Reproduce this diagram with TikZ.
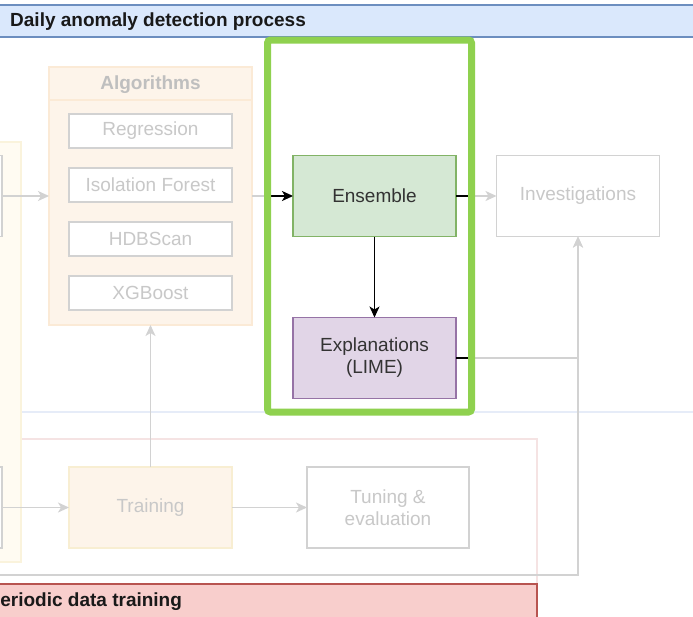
\documentclass[tikz,border=0pt]{standalone}
\usepackage{fontspec}
\setmainfont{Liberation Sans}
\usetikzlibrary{arrows.meta}

\definecolor{dimline}{HTML}{D2D2D2}
\definecolor{dimtext}{HTML}{C8C8C8}
\definecolor{ensfill}{HTML}{D5E8D4}
\definecolor{ensline}{HTML}{82B366}
\definecolor{limefill}{HTML}{E1D5E7}
\definecolor{limeline}{HTML}{9673A6}
\definecolor{focusgreen}{HTML}{8FD14F}
\definecolor{dailyfill}{HTML}{DAE8FC}
\definecolor{dailyline}{HTML}{6C8EBF}
\definecolor{dailyfaint}{HTML}{E6ECF8}
\definecolor{trainfill}{HTML}{F8CECC}
\definecolor{trainline}{HTML}{B85450}
\definecolor{trainfaint}{HTML}{F5E3E3}
\definecolor{algofill}{HTML}{FDF4EA}
\definecolor{algoline}{HTML}{FBEAD6}
\definecolor{fitline}{HTML}{F8EED2}
\definecolor{srcfill}{HTML}{FFFBF2}
\definecolor{srcline}{HTML}{FAF3DC}

\tikzset{
  bodyfont/.style={font=\fontsize{19}{22}\selectfont},
  headfont/.style={font=\fontsize{19}{22}\selectfont\bfseries},
  box/.style={bodyfont, draw, line width=1.5pt, minimum width=163pt,
    minimum height=81pt, align=center, inner sep=0pt, outer sep=0pt},
  dimbox/.style={box, draw=dimline, fill=white, text=dimtext},
  algobox/.style={dimbox, minimum height=34pt},
  wire/.style={line width=1.5pt, -{Stealth[length=11pt,width=10pt,inset=3pt]}},
  dimwire/.style={wire, dimline},
  hotwire/.style={wire, black}
}

\begin{document}
\begin{tikzpicture}[x=1pt,y=-1pt]
    \useasboundingbox (0,0) rectangle (693,616);
    \clip (0,0) rectangle (693,616);
    % Swimlanes
    \draw[dailyfaint, line width=1.2pt, fill=white] (-10,37) rectangle (710,412);
    \draw[dailyline, line width=1.2pt, fill=dailyfill] (-10,5) rectangle (710,37);
    \node[headfont, text=black!90, anchor=west, inner sep=0pt] (daily) at (10,21.5) {Daily anomaly detection process};
    \draw[trainfaint, line width=1.2pt] (-10,439) rectangle (537,584);
    \draw[trainline, line width=1.2pt, fill=trainfill] (-10,584) rectangle (537,630);
    \node[headfont, text=black!90, anchor=west, inner sep=0pt] (periodic) at (-12.5,601.5) {Periodic data training};
    % Sources at the left edge
    \node[draw=srcline, fill=srcfill, line width=1.2pt, minimum width=31pt, minimum height=420pt] (src) at (5.5,352) {};
    \node[dimbox] (feed) at (-79.5,196) {};
    \node[dimbox] (hist) at (-79.5,507.5) {};
    % Algorithms container
    \node[draw=algoline, fill=algofill, line width=1.5pt, minimum width=203pt, minimum height=258pt, outer sep=0pt] (algos) at (150.5,196) {};
    \draw[algoline, line width=1.5pt] (algos.west |- 0,100) -- (algos.east |- 0,100);
    \node[headfont, text=black!25] (algotitle) at (150.5,85) {Algorithms};
    \foreach \name/\txt [count=\i from 0] in {reg/Regression, iso/Isolation Forest, hdb/HDBScan, xgb/XGBoost}
        \node[algobox] (\name) at (150.5,131+54*\i) {\txt};
    % Daily flow
    \node[box, fill=ensfill, draw=ensline, text=black!80] (ens) at (374.5,196) {Ensemble};
    \node[box, fill=limefill, draw=limeline, text=black!80] (lime) at (374.5,358) {Explanations\\(LIME)};
    \node[dimbox] (inv) at (578,196) {Investigations};
    % Periodic flow
    \node[box, fill=algofill, draw=fitline, text=dimtext] (train) at (150.5,507.5) {Training};
    \node[dimbox, minimum width=162pt] (tune) at (388,507.5) {Tuning \&\\evaluation};
    \coordinate (back) at (-5,575);
    \draw[dimwire] (feed) -- (algos);
    \draw[dimwire] (algos) -- (ens);
    \draw[dimwire] (ens) -- (inv);
    \draw[dimwire] (lime.east) -| (inv.south);
    \draw[dimwire] (back) -| (inv.south);
    \draw[dimwire] (hist) -- (train);
    \draw[dimwire] (train) -- (algos);
    \draw[dimwire] (train) -- (tune);
    % Highlighted part
    \path node[minimum width=204pt, minimum height=372pt, outer sep=0pt] (focus) at (369.5,226) {};
    \begin{scope}
        \clip (focus.north west) rectangle (focus.south east);
        \draw[hotwire] (algos) -- (ens);
        \draw[hotwire] (ens) -- (inv);
        \draw[hotwire] (lime.east) -| (inv.south);
    \end{scope}
    \draw[hotwire] (ens) -- (lime);
    \draw[focusgreen, line width=7pt, rounded corners=3pt] (focus.north west) rectangle (focus.south east);
\end{tikzpicture}
\end{document}
